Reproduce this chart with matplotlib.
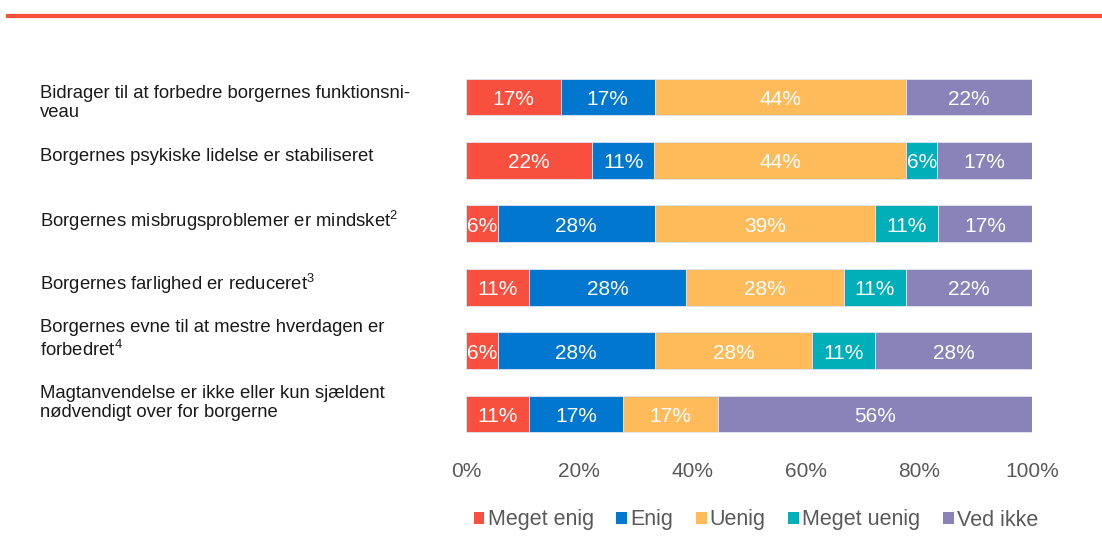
import matplotlib
matplotlib.use("Agg")
import matplotlib.pyplot as plt
import numpy as np
from matplotlib.patches import Patch
from matplotlib.transforms import blended_transform_factory, offset_copy

plt.rcParams['font.family'] = ['Liberation Sans', 'DejaVu Sans']
plt.rcParams['mathtext.fontset'] = 'custom'
plt.rcParams['mathtext.rm'] = 'Liberation Sans'
plt.rcParams['mathtext.it'] = 'Liberation Sans'
plt.rcParams['mathtext.bf'] = 'Liberation Sans'

categories = [
    "Bidrager til at forbedre borgernes funktionsni-\nveau",
    "Borgernes psykiske lidelse er stabiliseret",
    r"Borgernes misbrugsproblemer er mindsket$^{\mathrm{2}}$",
    r"Borgernes farlighed er reduceret$^{\mathrm{3}}$",
    "Borgernes evne til at mestre hverdagen er\n" r"forbedret$^{\mathrm{4}}$",
    "Magtanvendelse er ikke eller kun sjældent\nnødvendigt over for borgerne",
]
series_names = ["Meget enig", "Enig", "Uenig", "Meget uenig", "Ved ikke"]
meget_enig = [16.7, 22.2, 5.6, 11.1, 5.6, 11.1]
enig = [16.7, 11.1, 27.8, 27.8, 27.8, 16.7]
uenig = [44.4, 44.4, 38.9, 27.8, 27.8, 16.7]
meget_uenig = [0.0, 5.6, 11.1, 11.1, 11.1, 0.0]
ved_ikke = [22.2, 16.7, 16.7, 22.2, 27.8, 55.6]
tick_values = [0, 20, 40, 60, 80, 100]
tick_labels = ["0%", "20%", "40%", "60%", "80%", "100%"]

colors = ["#F94F3E", "#0277CF", "#FFBA5A", "#00AFB9", "#8983BA"]
label_offsets_px = [6, -4, -3, -3, -11, -11]

W, H = 1102, 549
fig = plt.figure(figsize=(W / 100, H / 100), dpi=100)
ax = fig.add_axes([466 / W, 1 - 445.7 / H, (1032 - 466) / W, (445.7 - 65.3) / H])

data = [meget_enig, enig, uenig, meget_uenig, ved_ikke]
y = np.arange(len(categories))
left = np.zeros(len(categories))
val_trans = offset_copy(ax.transData, fig=fig, x=0, y=-2.5, units="dots")
for name, vals, col in zip(series_names, data, colors):
    vals = np.array(vals)
    ax.barh(y, vals, left=left, height=0.58, color=col, label=name,
            edgecolor="#dfe6f2", linewidth=0.6)
    for yi, (l, v) in enumerate(zip(left, vals)):
        if v > 0:
            ax.text(l + v / 2, yi, f"{round(v):d}%", ha="center", va="center",
                    color="white", fontsize=15, transform=val_trans)
    left += vals

ax.set_xlim(0, 100)
ax.set_ylim(len(categories) - 0.5, -0.5)
ax.set_xticks(tick_values)
ax.set_xticklabels(tick_labels, fontsize=15, color="#595959")
ax.tick_params(axis="x", length=0, pad=12)
ax.set_yticks([])
for s in ax.spines.values():
    s.set_visible(False)

trans = blended_transform_factory(fig.transFigure, ax.transData)
for yi, (cat, off) in enumerate(zip(categories, label_offsets_px)):
    t = offset_copy(trans, fig=fig, x=0, y=-off, units="dots")
    ax.text(40 / W, yi, cat, transform=t, ha="left", va="center",
            fontsize=13.3, color="#1a1a1a", linespacing=1.22)

handles = [Patch(facecolor=c, edgecolor="none") for c in colors]
fig.legend(handles, series_names, loc="center", bbox_to_anchor=(756 / W, 1 - 520 / H),
           ncol=5, frameon=False, fontsize=15.5, labelcolor="#595959",
           handlelength=0.5, handleheight=0.5, handletextpad=0.15, columnspacing=1.05)

fig.add_artist(plt.Line2D([8 / W, 1.0], [1 - 16 / H, 1 - 16 / H], color="#F94F3E",
                          linewidth=3, transform=fig.transFigure))

fig.savefig("out.png", dpi=100)
